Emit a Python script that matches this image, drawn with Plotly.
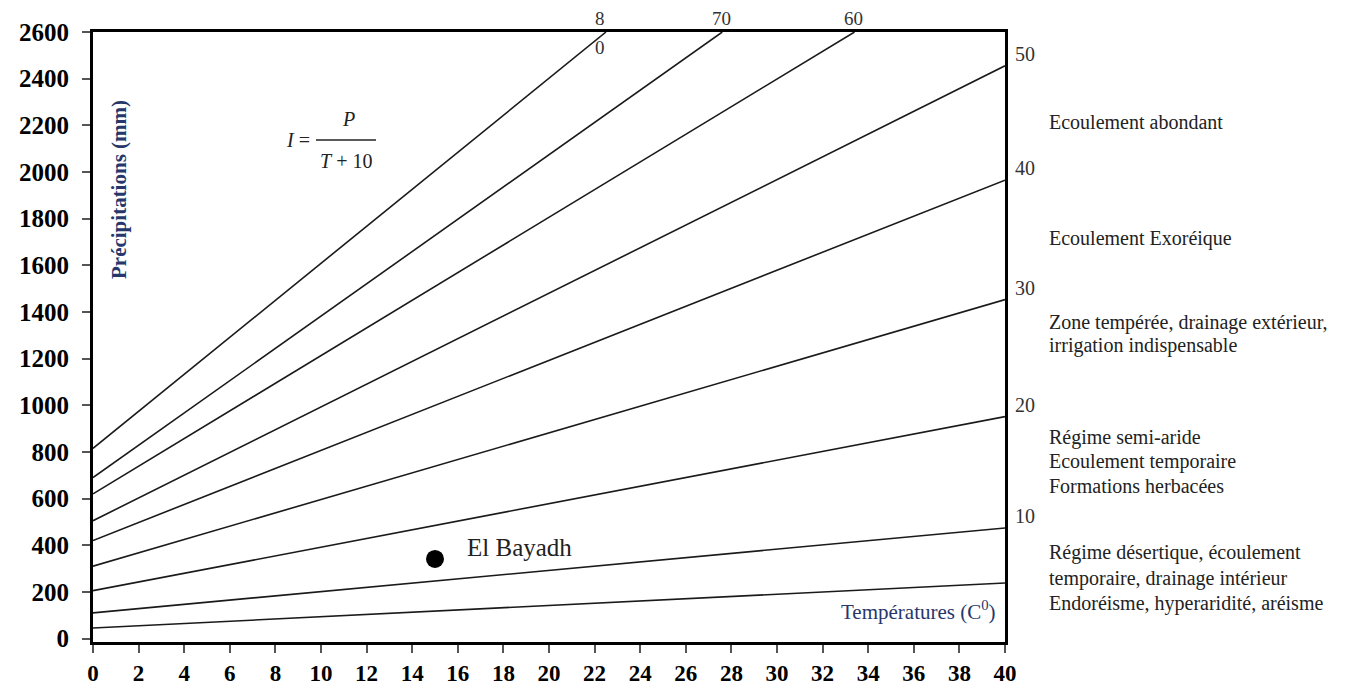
import plotly.graph_objects as go

# De Martonne aridity index abacus: I = P / (T + 10)
index_values = [5, 10, 20, 30, 40, 50, 60, 70, 80]
temp_start = [0, 0, 0, 0, 0, 0, 0, 0, 0]
precip_start = [45, 110, 205, 310, 420, 505, 620, 690, 815]
temp_end = [40, 40, 40, 40, 40, 40, 33.4, 27.6, 22.5]
precip_end = [238, 474, 951, 1453, 1965, 2455, 2600, 2600, 2600]

# Station
station_name = "El Bayadh"
station_temp = [15.0]
station_precip = [341]

x_ticks = list(range(0, 41, 2))
y_ticks = list(range(0, 2601, 200))

# Climate regime descriptions on the right side (text, pixel y of line)
regime_lines = [
    ("Ecoulement abondant", 122),
    ("Ecoulement Exoréique", 238),
    ("Zone tempérée, drainage extérieur,", 322),
    ("irrigation indispensable", 345),
    ("Régime semi-aride", 437),
    ("Ecoulement temporaire", 461),
    ("Formations herbacées", 486),
    ("Régime désertique, écoulement", 552),
    ("temporaire, drainage intérieur", 578),
    ("Endoréisme, hyperaridité, aréisme", 603),
]

W, H = 1351, 687
L, R, T, B = 93, 1005, 32, 642
SERIF = "Liberation Serif"
NAVY = "#26376b"


def px(x):
    return (x - L) / (R - L)


def py(y):
    return (B - y) / (B - T)


fig = go.Figure()

for i, idx in enumerate(index_values):
    fig.add_trace(go.Scatter(
        x=[temp_start[i], temp_end[i]],
        y=[precip_start[i], precip_end[i]],
        mode="lines",
        line=dict(color="#1a1a1a", width=1.6),
        hoverinfo="skip",
        showlegend=False,
    ))

fig.add_trace(go.Scatter(
    x=station_temp, y=station_precip,
    mode="markers",
    marker=dict(color="black", size=18),
    showlegend=False,
))

annotations = []

# Station label
annotations.append(dict(
    x=station_temp[0], y=station_precip[0], xref="x", yref="y",
    text=station_name, showarrow=False, xanchor="left", yanchor="middle",
    xshift=30, yshift=11, font=dict(family=SERIF, size=25, color="#222"),
))

# Index labels at the right end of the lines 10..50
for i, idx in enumerate(index_values):
    if temp_end[i] >= 40 and idx >= 10:
        annotations.append(dict(
            x=temp_end[i], y=precip_end[i], xref="x", yref="y",
            text=str(idx), showarrow=False, xanchor="left", yanchor="middle",
            xshift=8, yshift=12, font=dict(family=SERIF, size=20, color="#333"),
        ))

# Index labels at the top end of the steep lines
for i, idx in enumerate(index_values):
    if temp_end[i] < 40:
        if idx == 80:
            annotations.append(dict(
                x=temp_end[i], y=precip_end[i], xref="x", yref="y",
                text="8", showarrow=False, xanchor="center", yanchor="middle",
                xshift=-6, yshift=14, font=dict(family=SERIF, size=19, color="#333"),
            ))
            annotations.append(dict(
                x=temp_end[i], y=precip_end[i], xref="x", yref="y",
                text="0", showarrow=False, xanchor="center", yanchor="middle",
                xshift=-6, yshift=-15, font=dict(family=SERIF, size=19, color="#333"),
            ))
        else:
            annotations.append(dict(
                x=temp_end[i], y=precip_end[i], xref="x", yref="y",
                text=str(idx), showarrow=False, xanchor="center", yanchor="middle",
                xshift=-1, yshift=14, font=dict(family=SERIF, size=19, color="#333"),
            ))

# Regime descriptions
for text, yy in regime_lines:
    annotations.append(dict(
        x=px(1047), y=py(yy), xref="paper", yref="paper",
        text=text, showarrow=False, xanchor="left", yanchor="middle",
        font=dict(family=SERIF, size=20, color="#222"),
    ))

# Axis titles placed inside the frame
annotations.append(dict(
    x=px(119), y=py(190), xref="paper", yref="paper",
    text="<b>Précipitations (mm)</b>", textangle=-90, showarrow=False,
    xanchor="center", yanchor="middle",
    font=dict(family=SERIF, size=21, color=NAVY),
))
annotations.append(dict(
    x=px(998), y=py(610), xref="paper", yref="paper",
    text="Températures (C<sup>0</sup>)", showarrow=False,
    xanchor="right", yanchor="middle",
    font=dict(family=SERIF, size=21, color=NAVY),
))

# Formula I = P / (T + 10)
annotations.append(dict(
    x=px(312), y=py(140), xref="paper", yref="paper",
    text="<i>I</i> =", showarrow=False, xanchor="right", yanchor="middle",
    font=dict(family=SERIF, size=20, color="#222"),
))
annotations.append(dict(
    x=px(348), y=py(119), xref="paper", yref="paper",
    text="<i>P</i>", showarrow=False, xanchor="center", yanchor="middle",
    font=dict(family=SERIF, size=20, color="#222"),
))
annotations.append(dict(
    x=px(346), y=py(161), xref="paper", yref="paper",
    text="<i>T</i> + 10", showarrow=False, xanchor="center", yanchor="middle",
    font=dict(family=SERIF, size=20, color="#222"),
))

shapes = [dict(
    type="line", xref="paper", yref="paper",
    x0=px(316), x1=px(376), y0=py(140), y1=py(140),
    line=dict(color="#222", width=1.3),
)]

fig.update_layout(
    width=W, height=H,
    margin=dict(l=L, r=W - R, t=T, b=H - B, pad=0, autoexpand=False),
    paper_bgcolor="white", plot_bgcolor="white",
    showlegend=False,
    annotations=annotations,
    shapes=shapes,
    font=dict(family=SERIF),
)

fig.update_xaxes(
    range=[0, 40], tickvals=x_ticks, ticktext=[str(v) for v in x_ticks],
    showgrid=False, zeroline=False, automargin=False,
    showline=True, linecolor="black", linewidth=3, mirror=True,
    ticks="outside", ticklen=8, tickwidth=1.5, tickcolor="#555",
    tickfont=dict(family=SERIF, size=23, color="black", weight="bold"),
    ticklabelstandoff=0,
)
fig.update_yaxes(
    range=[-15, 2600], tickvals=y_ticks, ticktext=[str(v) for v in y_ticks],
    showgrid=False, zeroline=False, automargin=False,
    showline=True, linecolor="black", linewidth=3, mirror=True,
    ticks="outside", ticklen=8, tickwidth=1.5, tickcolor="#555",
    tickfont=dict(family=SERIF, size=25, color="black", weight="bold"),
    ticklabelstandoff=8,
)

fig.write_html("out.html")
